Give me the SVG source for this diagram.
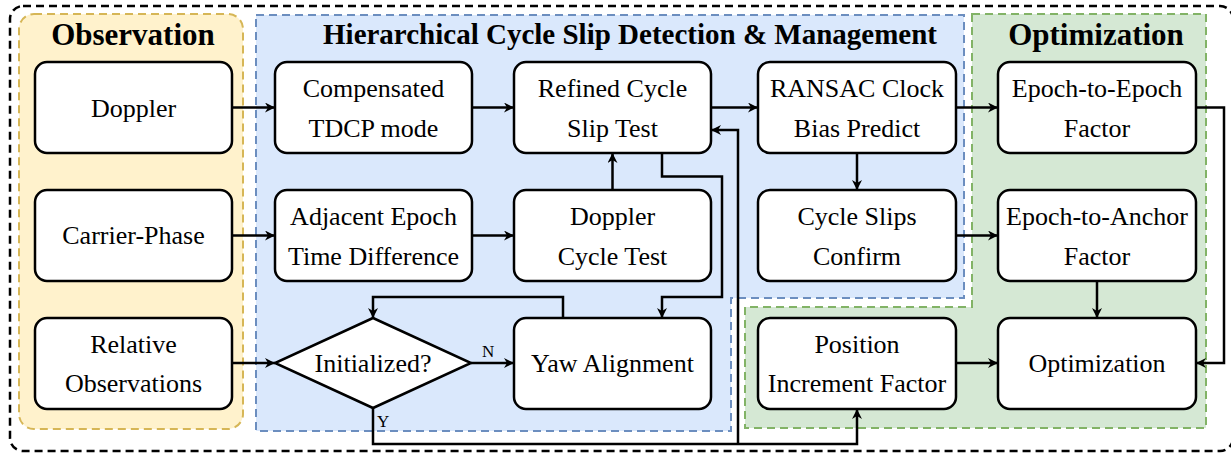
<svg xmlns="http://www.w3.org/2000/svg" width="1231" height="453" viewBox="0 0 1231 453">
  <defs>
    <marker id="arrow" viewBox="0 0 10 10" refX="10" refY="5" markerWidth="11" markerHeight="10" markerUnits="userSpaceOnUse" orient="auto">
      <path d="M0,0 L10,5 L0,10 L3,5 Z" fill="#000"/>
    </marker>
    <style>
      .node rect, .node path { fill: #fff; stroke: #000; stroke-width: 2.5; }
      .label { font-family: "Liberation Serif", "Times New Roman", serif; font-size: 26px; text-anchor: middle; fill: #000; }
      .title { font-family: "Liberation Serif", "Times New Roman", serif; font-weight: bold; text-anchor: middle; fill: #000; }
      .small { font-family: "Liberation Serif", "Times New Roman", serif; font-size: 17px; fill: #000; }
      .edge { fill: none; stroke: #000; stroke-width: 2.5; marker-end: url(#arrow); }
    </style>
  </defs>

  <!-- outer frame -->
  <rect x="10" y="6" width="1223" height="445" rx="13" fill="#fff" stroke="#000" stroke-width="2.5" stroke-dasharray="8 5"/>

  <!-- group backgrounds -->
  <g id="group-observation">
    <rect x="19" y="14" width="224" height="415" rx="15" fill="#fff2cc" stroke="#d6b656" stroke-width="2" stroke-dasharray="8 5"/>
    <text class="title" x="133" y="45" font-size="31">Observation</text>
  </g>
  <g id="group-detection">
    <path d="M256,15 H964 V298 H731 V431 H256 Z" fill="#dae8fc" stroke="#6c8ebf" stroke-width="2" stroke-dasharray="8 5"/>
    <text class="title" x="630" y="44" font-size="29">Hierarchical Cycle Slip Detection &amp; Management</text>
  </g>
  <g id="group-optimization">
    <path d="M972,14 H1206 V428 H745 V307 H972 Z" fill="#d5e8d4" stroke="#82b366" stroke-width="2" stroke-dasharray="8 5"/>
    <text class="title" x="1096" y="45" font-size="31">Optimization</text>
  </g>

  <!-- connectors -->
  <g id="connectors">
    <path class="edge" d="M232,107.5 H275"/>
    <path class="edge" d="M472,107.5 H514"/>
    <path class="edge" d="M711,107.5 H758"/>
    <path class="edge" d="M956,107.5 H998"/>
    <path class="edge" d="M232,235.5 H275"/>
    <path class="edge" d="M472,235.5 H514"/>
    <path class="edge" d="M612.5,190 V153"/>
    <path class="edge" d="M662,153 V176.5 H722 V297 H662 V318"/>
    <path class="edge" d="M857,153 V190"/>
    <path class="edge" d="M956,235.5 H998"/>
    <path class="edge" d="M1097,281 V318"/>
    <path class="edge" d="M956,363 H998"/>
    <path class="edge" d="M1196,107.5 H1224 V363 H1196"/>
    <path class="edge" d="M232,363 H275"/>
    <path class="edge" d="M471,363 H514"/>
    <path class="edge" d="M563,318 V297 H373 V318"/>
    <path class="edge" d="M373,408 V444 H857 V409"/>
    <path class="edge" d="M738,444 V130 H711"/>
    <text class="small" x="482" y="357">N</text>
    <text class="small" x="377" y="427">Y</text>
  </g>

  <!-- observation column -->
  <g id="doppler" class="node">
    <rect x="35" y="62" width="197" height="91" rx="12"/>
    <text class="label" x="133.5" y="116.5">Doppler</text>
  </g>
  <g id="carrier-phase" class="node">
    <rect x="35" y="190" width="197" height="91" rx="12"/>
    <text class="label" x="133.5" y="244">Carrier-Phase</text>
  </g>
  <g id="relative-observations" class="node">
    <rect x="35" y="318" width="197" height="91" rx="12"/>
    <text class="label" x="133.5" y="353">Relative</text>
    <text class="label" x="133.5" y="392">Observations</text>
  </g>

  <!-- detection column -->
  <g id="compensated-tdcp" class="node">
    <rect x="275" y="62" width="197" height="91" rx="12"/>
    <text class="label" x="373.5" y="97">Compensated</text>
    <text class="label" x="373.5" y="137">TDCP mode</text>
  </g>
  <g id="adjacent-epoch" class="node">
    <rect x="275" y="190" width="197" height="91" rx="12"/>
    <text class="label" x="373.5" y="225">Adjacent Epoch</text>
    <text class="label" x="373.5" y="265">Time Difference</text>
  </g>
  <g id="initialized" class="node">
    <path d="M373,318 L471,363 L373,408 L275,363 Z"/>
    <text class="label" x="373" y="372">Initialized?</text>
  </g>
  <g id="refined-cycle-slip" class="node">
    <rect x="514" y="62" width="197" height="91" rx="12"/>
    <text class="label" x="612.5" y="97">Refined Cycle</text>
    <text class="label" x="612.5" y="137">Slip Test</text>
  </g>
  <g id="doppler-cycle-test" class="node">
    <rect x="514" y="190" width="197" height="91" rx="12"/>
    <text class="label" x="612.5" y="225">Doppler</text>
    <text class="label" x="612.5" y="265">Cycle Test</text>
  </g>
  <g id="yaw-alignment" class="node">
    <rect x="514" y="318" width="197" height="91" rx="12"/>
    <text class="label" x="612.5" y="372">Yaw Alignment</text>
  </g>
  <g id="ransac-clock" class="node">
    <rect x="758" y="62" width="198" height="91" rx="12"/>
    <text class="label" x="857" y="97">RANSAC Clock</text>
    <text class="label" x="857" y="137">Bias Predict</text>
  </g>
  <g id="cycle-slips-confirm" class="node">
    <rect x="758" y="190" width="198" height="91" rx="12"/>
    <text class="label" x="857" y="225">Cycle Slips</text>
    <text class="label" x="857" y="265">Confirm</text>
  </g>

  <!-- optimization column -->
  <g id="position-increment" class="node">
    <rect x="758" y="318" width="198" height="91" rx="12"/>
    <text class="label" x="857" y="353">Position</text>
    <text class="label" x="857" y="392">Increment Factor</text>
  </g>
  <g id="epoch-to-epoch" class="node">
    <rect x="998" y="62" width="198" height="91" rx="12"/>
    <text class="label" x="1097" y="97">Epoch-to-Epoch</text>
    <text class="label" x="1097" y="137">Factor</text>
  </g>
  <g id="epoch-to-anchor" class="node">
    <rect x="998" y="190" width="198" height="91" rx="12"/>
    <text class="label" x="1097" y="225">Epoch-to-Anchor</text>
    <text class="label" x="1097" y="265">Factor</text>
  </g>
  <g id="optimization" class="node">
    <rect x="998" y="318" width="198" height="91" rx="12"/>
    <text class="label" x="1097" y="372">Optimization</text>
  </g>
</svg>
